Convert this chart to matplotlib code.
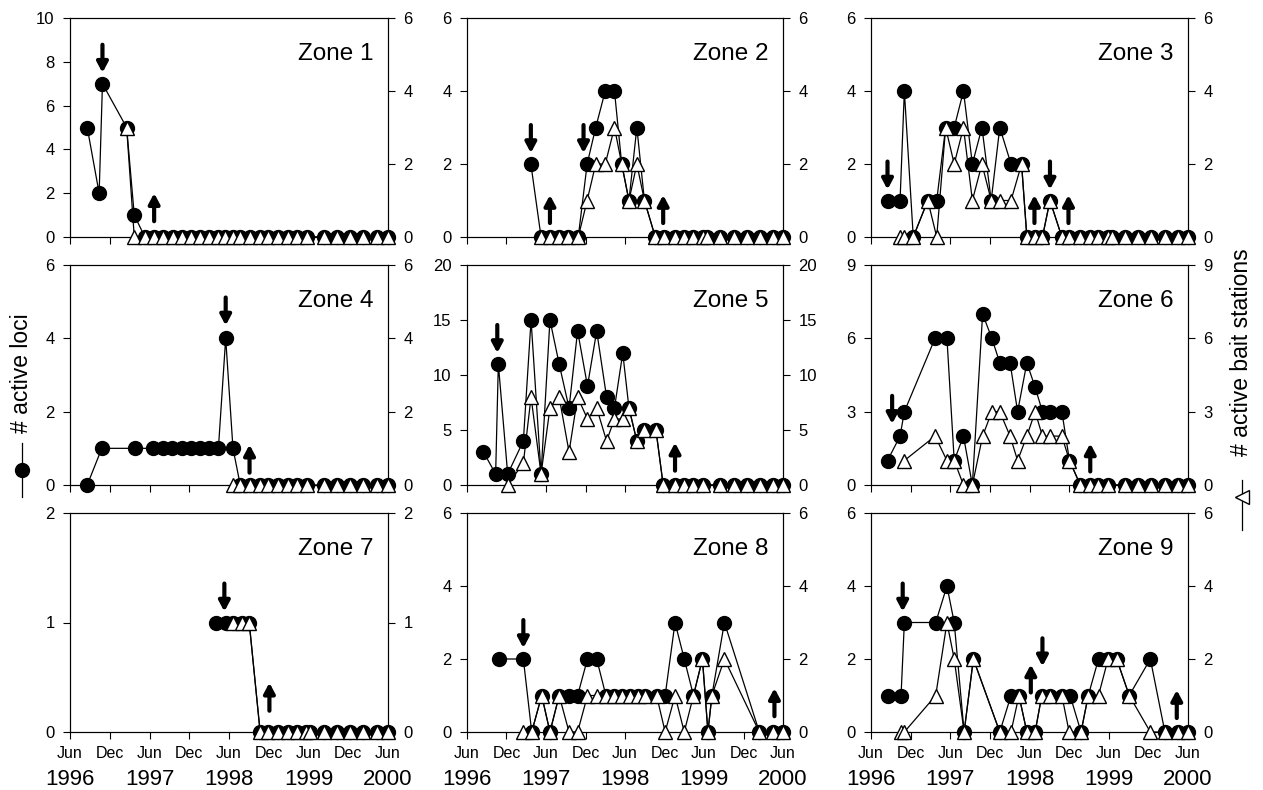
import numpy as np
import matplotlib.pyplot as plt
from matplotlib.lines import Line2D
from matplotlib import transforms

plt.rcParams['font.family'] = ['Liberation Sans', 'DejaVu Sans']

# x values: months since June 1996
months = ['Jun', 'Dec', 'Jun', 'Dec', 'Jun', 'Dec', 'Jun', 'Dec', 'Jun']
years = ['1996', '1997', '1998', '1999', '2000']

# Zone 1
z1_loci_t = [2.6, 4.4, 4.9, 8.55, 9.7, 11.3, 12.7, 14.1, 15.5, 16.9,
             18.3, 19.6, 21.0, 22.4, 23.4, 24.55, 25.7, 27.1, 28.7, 29.9,
             31.45, 32.9, 34.3, 35.7, 38.4, 40.3, 42.3, 44.3, 46.3, 48.0]
z1_loci = [5, 2, 7, 5, 1, 0, 0, 0, 0, 0,
           0, 0, 0, 0, 0, 0, 0, 0, 0, 0,
           0, 0, 0, 0, 0, 0, 0, 0, 0, 0]
z1_bait_t = [8.55, 9.7, 11.3, 12.7, 14.1, 15.5, 16.9,
             18.3, 19.6, 21.0, 22.4, 23.4, 24.55, 25.7, 27.1, 28.7, 29.9,
             31.45, 32.9, 34.3, 35.7, 38.4, 40.3, 42.3, 44.3, 46.3, 48.0]
z1_bait = [3, 0, 0, 0, 0, 0, 0,
           0, 0, 0, 0, 0, 0, 0, 0, 0, 0,
           0, 0, 0, 0, 0, 0, 0, 0, 0, 0]

# Zone 2
z2_loci_t = [9.7, 11.25, 12.6, 14.0, 15.4, 16.9, 18.25, 19.55, 21.0, 22.4,
             23.5, 24.6, 25.8, 26.95, 28.6, 29.9, 31.6, 33.0, 34.4, 35.9,
             36.4, 38.45, 40.5, 42.5, 44.5, 46.55, 48.0]
z2_loci = [2, 0, 0, 0, 0, 0, 2, 3, 4, 4,
           2, 1, 3, 1, 0, 0, 0, 0, 0, 0,
           0, 0, 0, 0, 0, 0, 0]
z2_bait_t = [11.25, 12.6, 14.0, 15.4, 16.9, 18.25, 19.55, 21.0, 22.4,
             23.5, 24.6, 25.8, 26.95, 28.6, 29.9, 31.6, 33.0, 34.4, 35.9,
             36.4, 38.45, 40.5, 42.5, 44.5, 46.55, 48.0]
z2_bait = [0, 0, 0, 0, 0, 1, 2, 2, 3,
           2, 1, 2, 1, 0, 0, 0, 0, 0, 0,
           0, 0, 0, 0, 0, 0, 0]

# Zone 3
z3_loci_t = [2.5, 4.4, 5.05, 6.4, 8.6, 9.95, 11.3, 12.6, 14.0, 15.35,
             16.8, 18.2, 19.5, 21.2, 22.8, 23.6, 24.85, 25.96, 27.1, 28.9,
             30.05, 31.7, 33.1, 34.4, 35.96, 36.5, 38.5, 40.5, 42.4, 44.5,
             46.5, 48.0]
z3_loci = [1, 1, 4, 0, 1, 1, 3, 3, 4, 2,
           3, 1, 3, 2, 2, 0, 0, 0, 1, 0,
           0, 0, 0, 0, 0, 0, 0, 0, 0, 0,
           0, 0]
z3_bait_t = [4.4, 5.05, 6.4, 8.6, 9.95, 11.3, 12.6, 14.0, 15.35,
             16.8, 18.2, 19.5, 21.2, 22.8, 23.6, 24.85, 25.96, 27.1, 28.9,
             30.05, 31.7, 33.1, 34.4, 35.96, 36.5, 38.5, 40.5, 42.4, 44.5,
             46.5, 48.0]
z3_bait = [0, 0, 0, 1, 0, 3, 2, 3, 1,
           2, 1, 1, 1, 2, 0, 0, 0, 1, 0,
           0, 0, 0, 0, 0, 0, 0, 0, 0, 0,
           0, 0]

# Zone 4
z4_loci_t = [2.6, 4.8, 9.8, 12.6, 14.0, 15.45, 16.85, 18.2, 19.6, 21.0,
             22.4, 23.5, 24.6, 25.7, 27.1, 28.7, 29.9, 31.45, 32.9, 34.3,
             35.7, 38.4, 40.3, 42.3, 44.3, 46.3, 48.0]
z4_loci = [0, 1, 1, 1, 1, 1, 1, 1, 1, 1,
           1, 4, 1, 0, 0, 0, 0, 0, 0, 0,
           0, 0, 0, 0, 0, 0, 0]
z4_bait_t = [24.6, 25.7, 27.1, 28.7, 29.9, 31.45, 32.9, 34.3,
             35.7, 38.4, 40.3, 42.3, 44.3, 46.3, 48.0]
z4_bait = [0, 0, 0, 0, 0, 0, 0, 0,
           0, 0, 0, 0, 0, 0, 0]

# Zone 5
z5_loci_t = [2.5, 4.35, 4.76, 6.18, 8.56, 9.73, 11.25, 12.6, 14.0, 15.5,
             16.8, 18.3, 19.7, 21.2, 22.4, 23.66, 24.6, 25.8, 26.95, 28.7,
             29.8, 31.6, 33.0, 34.4, 35.8, 38.45, 40.5, 42.5, 44.5, 46.55,
             48.0]
z5_loci = [3, 1, 11, 1, 4, 15, 1, 15, 11, 7,
           14, 9, 14, 8, 7, 12, 7, 4, 5, 5,
           0, 0, 0, 0, 0, 0, 0, 0, 0, 0,
           0]
z5_bait_t = [6.18, 8.56, 9.73, 11.25, 12.6, 14.0, 15.5,
             16.8, 18.3, 19.7, 21.2, 22.4, 23.66, 24.6, 25.8, 26.95, 28.7,
             29.8, 31.6, 33.0, 34.4, 35.8, 38.45, 40.5, 42.5, 44.5, 46.55,
             48.0]
z5_bait = [0, 2, 8, 1, 7, 8, 3,
           8, 6, 7, 4, 6, 6, 7, 4, 5, 5,
           0, 0, 0, 0, 0, 0, 0, 0, 0, 0,
           0]

# Zone 6
z6_loci_t = [2.5, 4.4, 5.05, 9.7, 11.5, 12.6, 14.0, 15.35, 16.9, 18.3,
             19.5, 21.06, 22.2, 23.6, 24.85, 25.96, 27.1, 28.9, 30.05, 31.7,
             33.1, 34.4, 35.9, 38.5, 40.5, 42.4, 44.5, 46.5, 48.0]
z6_loci = [1, 2, 3, 6, 6, 1, 2, 0, 7, 6,
           5, 5, 3, 5, 4, 3, 3, 3, 1, 0,
           0, 0, 0, 0, 0, 0, 0, 0, 0]
z6_bait_t = [5.05, 9.7, 11.5, 12.6, 14.0, 15.35, 16.9, 18.3,
             19.5, 21.06, 22.2, 23.6, 24.85, 25.96, 27.1, 28.9, 30.05, 31.7,
             33.1, 34.4, 35.9, 38.5, 40.5, 42.4, 44.5, 46.5, 48.0]
z6_bait = [1, 2, 1, 1, 0, 0, 2, 3,
           3, 2, 1, 2, 3, 2, 2, 2, 1, 0,
           0, 0, 0, 0, 0, 0, 0, 0, 0]

# Zone 7
z7_loci_t = [22.1, 23.5, 24.65, 25.9, 27.05, 28.7, 29.9, 31.45, 32.9, 34.3,
             35.6, 36.2, 38.4, 40.3, 42.3, 44.3, 46.3, 48.0]
z7_loci = [1, 1, 1, 1, 1, 0, 0, 0, 0, 0,
           0, 0, 0, 0, 0, 0, 0, 0]
z7_bait_t = [24.65, 25.9, 27.05, 28.7, 29.9, 31.45, 32.9, 34.3,
             35.6, 36.2, 38.4, 40.3, 42.3, 44.3, 46.3, 48.0]
z7_bait = [1, 1, 1, 0, 0, 0, 0, 0,
           0, 0, 0, 0, 0, 0, 0, 0]

# Zone 8
z8_loci_t = [4.86, 8.56, 9.83, 11.35, 12.6, 14.0, 15.5, 16.8, 18.3, 19.7,
             21.1, 22.4, 23.5, 24.8, 25.9, 27.05, 28.8, 30.1, 31.6, 33.0,
             34.4, 35.76, 36.6, 37.2, 39.1, 44.4, 46.55, 48.0]
z8_loci = [2, 2, 0, 1, 0, 1, 1, 1, 2, 2,
           1, 1, 1, 1, 1, 1, 1, 1, 3, 2,
           1, 2, 0, 1, 3, 0, 0, 0]
z8_bait_t = [8.56, 9.83, 11.35, 12.6, 14.0, 15.5, 16.8, 18.3, 19.7,
             21.1, 22.4, 23.5, 24.8, 25.9, 27.05, 28.8, 30.1, 31.6, 33.0,
             34.4, 35.76, 36.6, 37.2, 39.1, 44.4, 46.55, 48.0]
z8_bait = [0, 0, 1, 0, 1, 0, 0, 1, 1,
           1, 1, 1, 1, 1, 1, 1, 0, 1, 0,
           1, 2, 0, 1, 2, 0, 0, 0]

# Zone 9
z9_loci_t = [2.5, 4.55, 5.05, 9.8, 11.5, 12.6, 14.1, 15.5, 19.5, 21.2,
             22.4, 23.6, 24.85, 25.86, 27.1, 28.9, 30.15, 31.8, 32.9, 34.45,
             35.9, 37.2, 39.1, 42.3, 44.5, 46.5, 48.0]
z9_loci = [1, 1, 3, 3, 4, 3, 0, 2, 0, 1,
           1, 0, 0, 1, 1, 1, 1, 0, 1, 2,
           2, 2, 1, 2, 0, 0, 0]
z9_bait_t = [4.55, 5.05, 9.8, 11.5, 12.6, 14.1, 15.5, 19.5, 21.2,
             22.4, 23.6, 24.85, 25.86, 27.1, 28.9, 30.0, 31.8, 32.9, 34.45,
             35.9, 37.2, 39.1, 42.3, 44.5, 46.5, 48.0]
z9_bait = [0, 0, 1, 3, 2, 0, 2, 0, 0,
           1, 0, 0, 1, 1, 1, 0, 0, 1, 1,
           2, 2, 1, 0, 0, 0, 0]

# arrows: (month, tip value on left axis, direction)
z1_arrows = [(4.9, 7.5, 'down'), (12.7, 2.0, 'up')]
z2_arrows = [(9.7, 2.3, 'down'), (17.7, 2.3, 'down'), (12.6, 1.15, 'up'), (29.8, 1.15, 'up')]
z3_arrows = [(2.5, 1.3, 'down'), (24.75, 1.15, 'up'), (27.1, 1.3, 'down'), (29.9, 1.15, 'up')]
z4_arrows = [(23.5, 4.35, 'down'), (27.1, 1.1, 'up')]
z5_arrows = [(4.6, 12.0, 'down'), (31.6, 3.85, 'up')]
z6_arrows = [(3.2, 2.5, 'down'), (33.2, 1.7, 'up')]
z7_arrows = [(23.3, 1.1, 'down'), (30.1, 0.45, 'up')]
z8_arrows = [(8.56, 2.3, 'down'), (46.7, 1.2, 'up')]
z9_arrows = [(4.8, 3.3, 'down'), (24.2, 1.85, 'up'), (25.96, 1.8, 'down'), (46.3, 1.15, 'up')]

W, H = 1263, 790
fig = plt.figure(figsize=(W / 100, H / 100), dpi=100)

col_x = [(70, 318), (467, 316), (871, 317)]
row_y = [(18, 219), (265, 220), (513, 219)]


def zone_panel(col, row, name, loci_t, loci, bait_t, bait, ymax, rmax, step, rstep, arrows):
    x0, w = col_x[col]
    y0, h = row_y[row]
    ax = fig.add_axes([x0 / W, 1 - (y0 + h) / H, w / W, h / H])
    ax2 = ax.twinx()

    ax.plot(loci_t, loci, '-o', color='k', lw=0.9, ms=10, clip_on=False, zorder=3)
    ax2.plot(bait_t, bait, '-^', color='k', mfc='white', mec='k', mew=1.0,
             lw=0.9, ms=9.5, clip_on=False, zorder=3)

    ax.set_xlim(0, 48)
    ax.set_ylim(0, ymax)
    ax2.set_ylim(0, rmax)
    ax.set_yticks(np.arange(0, ymax + 0.01, step))
    ax2.set_yticks(np.arange(0, rmax + 0.01, rstep))
    ax.set_xticks(range(0, 49, 6))
    if row == 2:
        ax.set_xticklabels(months, fontsize=11.5)
        trans = transforms.blended_transform_factory(ax.transData, ax.transAxes)
        for i, yr in enumerate(years):
            ax.text(i * 12, -0.215, yr, transform=trans, ha='center', va='center',
                    fontsize=16)
    else:
        ax.set_xticklabels([])

    ax.tick_params(axis='y', direction='out', length=5, width=0.8, labelsize=12, pad=6)
    ax.tick_params(axis='x', direction='out', length=5, width=0.8, pad=5)
    ax2.tick_params(axis='y', direction='out', length=5, width=0.8, labelsize=12, pad=6)
    for a in (ax, ax2):
        for s in a.spines.values():
            s.set_linewidth(0.8)

    ax.text(0.955, 0.81, name, transform=ax.transAxes, ha='right', va='baseline',
            fontsize=17.5)

    for t, tip, d in arrows:
        off = 28 if d == 'down' else -28
        ax.annotate('', xy=(t, tip), xytext=(0, off), textcoords='offset pixels',
                    arrowprops=dict(arrowstyle='-|>,head_length=0.6,head_width=0.32',
                                    lw=3, color='k', shrinkA=0, shrinkB=0),
                    annotation_clip=False)
    return ax


zone_panel(0, 0, 'Zone 1', z1_loci_t, z1_loci, z1_bait_t, z1_bait, 10, 6, 2, 2, z1_arrows)
zone_panel(1, 0, 'Zone 2', z2_loci_t, z2_loci, z2_bait_t, z2_bait, 6, 6, 2, 2, z2_arrows)
zone_panel(2, 0, 'Zone 3', z3_loci_t, z3_loci, z3_bait_t, z3_bait, 6, 6, 2, 2, z3_arrows)
zone_panel(0, 1, 'Zone 4', z4_loci_t, z4_loci, z4_bait_t, z4_bait, 6, 6, 2, 2, z4_arrows)
zone_panel(1, 1, 'Zone 5', z5_loci_t, z5_loci, z5_bait_t, z5_bait, 20, 20, 5, 5, z5_arrows)
zone_panel(2, 1, 'Zone 6', z6_loci_t, z6_loci, z6_bait_t, z6_bait, 9, 9, 3, 3, z6_arrows)
zone_panel(0, 2, 'Zone 7', z7_loci_t, z7_loci, z7_bait_t, z7_bait, 2, 2, 1, 1, z7_arrows)
zone_panel(1, 2, 'Zone 8', z8_loci_t, z8_loci, z8_bait_t, z8_bait, 6, 6, 2, 2, z8_arrows)
zone_panel(2, 2, 'Zone 9', z9_loci_t, z9_loci, z9_bait_t, z9_bait, 6, 6, 2, 2, z9_arrows)

# axis titles with legend symbols
lx = 22 / W
fig.text(lx, 1 - 373 / H, '# active loci', rotation=90, ha='center', va='center', fontsize=16.5)
fig.add_artist(Line2D([lx, lx], [1 - 497 / H, 1 - 443 / H], color='k', lw=0.9,
                      transform=fig.transFigure))
fig.add_artist(Line2D([lx], [1 - 470 / H], marker='o', ms=10, color='k',
                      transform=fig.transFigure))

rx = 1242 / W
fig.text(rx, 1 - 352 / H, '# active bait stations', rotation=90, ha='center', va='center',
         fontsize=16.5)
fig.add_artist(Line2D([rx, rx], [1 - 530 / H, 1 - 480 / H], color='k', lw=0.9,
                      transform=fig.transFigure))
fig.add_artist(Line2D([rx], [1 - 497 / H], marker='<', ms=9.5, mfc='white', mec='k', mew=1.0,
                      transform=fig.transFigure))

plt.savefig('out.png', dpi=100)
